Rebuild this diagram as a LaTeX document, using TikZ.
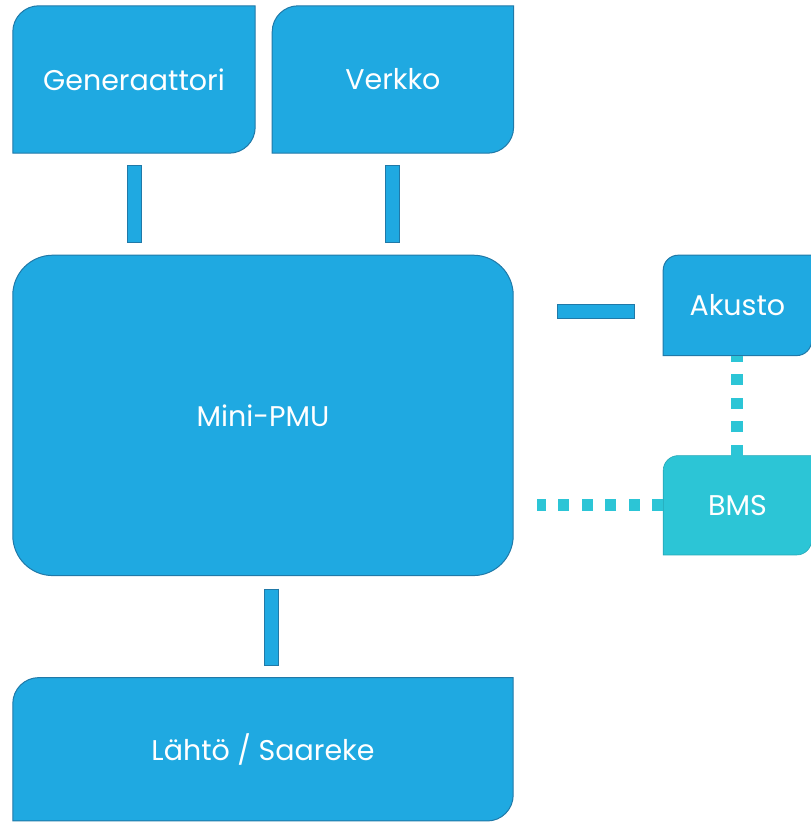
\documentclass[tikz,border=0pt]{standalone}
\usepackage{fontspec}
\setmainfont{Poppins}
\usepackage{tikz}
\usetikzlibrary{positioning, backgrounds}

\definecolor{boxblue}{HTML}{1FA9E1}
\definecolor{boxedge}{HTML}{2079A8}
\definecolor{bmsteal}{HTML}{2CC5D6}

% box with round top-left and bottom-right corners
\newcommand{\diagbox}[3]{%
	\draw[#3] (#1.south west) -- ([yshift=-#2]#1.north west)
		arc[start angle=180, end angle=90, radius=#2] -- (#1.north east)
		-- ([yshift=#2]#1.south east)
		arc[start angle=0, end angle=-90, radius=#2] -- cycle;}

\begin{document}
\begin{tikzpicture}[
		unit/.style={
			rectangle,
			inner sep=0pt,
			text=white,
			font=\fontsize{28.5}{32}\selectfont,
			align=center
		},
		bluebox/.style={
			fill=boxblue,
			draw=boxedge,
			line width=1pt
		},
		tealbox/.style={
			fill=bmsteal,
			draw=bmsteal!85!black,
			line width=0.6pt
		},
		bar/.style 2 args={
			line width=15pt,
			draw=boxedge,
			shorten <=#1,
			shorten >=#2,
			postaction={draw=boxblue, line width=13pt, shorten <=#1+1pt, shorten >=#2+1pt}
		},
		link/.style={
			draw=bmsteal,
			line width=12pt,
			dash pattern=on 11pt off 12.5pt
		}
	]
	\useasboundingbox (0,0) rectangle (811pt,822pt);
	
	\node[unit, minimum width=242pt, minimum height=147pt] (gen) at (134pt,742.5pt) {Generaattori};
	\node[unit, minimum width=241pt, minimum height=147pt, right=17pt of gen] (verk) {Verkko};
	\node[unit, minimum width=500pt, minimum height=320pt, below=102pt of gen.south west, anchor=north west] (pmu) {Mini-PMU};
	\node[unit, minimum width=148pt, minimum height=100pt, right=150pt of pmu.north east, anchor=north west] (akku) {Akusto};
	\node[unit, minimum width=148pt, minimum height=99pt, below=100pt of akku.south west, anchor=north west] (bms) {BMS};
	\node[unit, minimum width=500pt, minimum height=143pt, below=102pt of pmu.south west, anchor=north west] (lahto) {Lähtö / Saareke};
	
	\begin{scope}[on background layer]
		\diagbox{gen}{26pt}{bluebox}
		\diagbox{verk}{26pt}{bluebox}
		\draw[bluebox, rounded corners=40pt] (pmu.south west) rectangle (pmu.north east);
		\diagbox{akku}{15pt}{bluebox}
		\diagbox{bms}{15pt}{tealbox}
		\diagbox{lahto}{26pt}{bluebox}
	\end{scope}
	
	\draw[bar={12pt}{12pt}] (gen) -- (gen |- pmu.north);
	\draw[bar={12pt}{12pt}] (verk) -- (verk |- pmu.north);
	\draw[bar={44pt}{28pt}] ([yshift=-6.5pt]akku.west -| pmu.east) -- ([yshift=-6.5pt]akku.west);
	\draw[bar={13pt}{12pt}] ([xshift=8pt]pmu.south) -- ([xshift=8pt]pmu.south |- lahto.north);
	
	\draw[link] (bms.north) -- (akku.south);
	\draw[link, shorten >=24pt] (bms.west) -- (bms.west -| pmu.east);
	
\end{tikzpicture}
\end{document}
